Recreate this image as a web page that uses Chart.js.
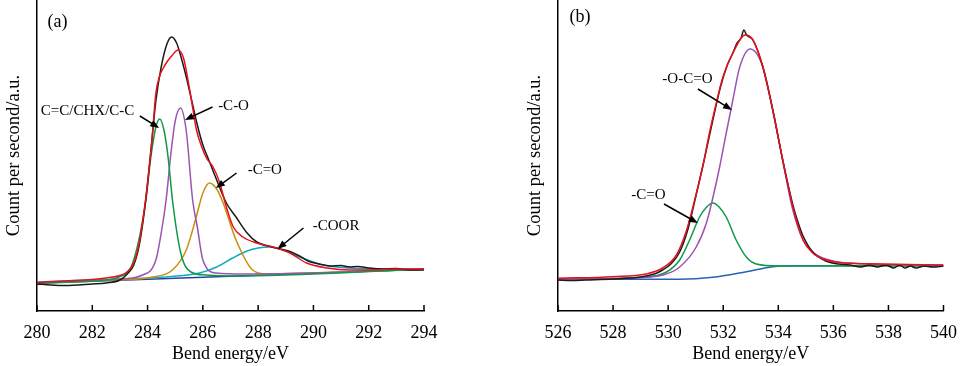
<!DOCTYPE html>
<html>
<head>
<meta charset="utf-8">
<script src="https://cdn.jsdelivr.net/npm/chart.js@4.4.1/dist/chart.umd.min.js"></script>
<style>
  body { margin: 0; background: #fff; }
  .row { display: flex; width: 960px; height: 366px; }
  canvas { display: block; }
</style>
</head>
<body>
<div class="row">
  <canvas id="c1s" width="480" height="366"></canvas>
  <canvas id="o1s" width="480" height="366"></canvas>
</div>
<script>
// ---- panel (a): C1s ----
const aRawE = [280, 280.5, 281, 282, 282.5, 283, 283.3, 283.5, 283.7, 283.9, 284.1, 284.3, 284.5, 284.7, 284.87, 285.05, 285.2, 285.4, 285.6, 285.8, 286.0, 286.2, 286.5, 286.85, 287.2, 287.6, 287.95, 288.5, 289.1, 289.5, 289.8, 290.2, 290.6, 291.0, 291.3, 291.6, 292.0, 292.5, 293.0, 293.5, 294];
const aRaw  = [27, 26, 25.5, 27, 28, 31, 38, 46, 66, 103, 155, 210, 245, 267, 274, 268, 255, 234, 210, 186, 166, 152, 131, 108, 94, 78, 69, 64, 60, 55, 50, 47, 45, 45.5, 44, 44.5, 43, 42, 42.5, 41, 41];

const aFitE = [280, 281, 282, 282.5, 283, 283.25, 283.5, 283.7, 283.85, 284.0, 284.15, 284.3, 284.45, 284.55, 284.7, 284.9, 285.1, 285.3, 285.55, 285.77, 285.96, 286.15, 286.35, 286.6, 286.85, 287.1, 287.45, 287.95, 288.55, 289.15, 289.75, 290.5, 291.3, 292, 293, 294];
const aFit  = [28.5, 30, 31.5, 33, 35.5, 39, 48, 68, 95, 128, 168, 218, 236, 242, 249, 256, 261, 253, 217, 181, 164, 152, 145, 129, 104, 84, 74, 68, 64, 58, 48, 43, 41, 41, 42, 42];

const aCCE = [280, 282, 282.97, 283.46, 283.94, 284.1, 284.3, 284.44, 284.6, 284.75, 284.9, 285.2, 285.57, 286.1, 287, 294];
const aCC  = [28, 30, 34, 48, 111, 150, 184, 192, 180, 152, 111, 58, 39, 36, 35, 41.7];

const aCOE = [280, 283, 283.82, 284.3, 284.5, 284.67, 284.85, 285.0, 285.19, 285.4, 285.63, 285.8, 286.0, 286.48, 287.5, 294];
const aCO  = [28, 32, 36, 51, 79, 111, 159, 190, 203, 180, 111, 84, 51, 38, 37, 41.7];

const aCdOE = [282, 284.2, 284.9, 285.4, 285.76, 286.0, 286.24, 286.5, 286.72, 287.2, 287.8, 288.3, 290, 294];
const aCdO  = [30, 34, 41, 61, 94, 118, 128, 122, 109, 71, 41, 37, 38, 41.7];

const aCOORE = [280, 282, 284.67, 285.88, 286.5, 287.08, 287.6, 288.0, 288.42, 288.9, 289.5, 290.35, 291.3, 292.5, 294];
const aCOOR  = [29, 31, 34, 38, 44, 53, 60, 63, 64, 61, 54, 46, 43, 42, 42];

const aBgE = [280, 294];
const aBg  = [27.7, 41.7];

// ---- panel (b): O1s ----
const bRawE = [526, 526.5, 527, 528, 529, 529.5, 529.8, 530.1, 530.4, 530.7, 531.0, 531.3, 531.6, 531.9, 532.15, 532.35, 532.5, 532.65, 532.75, 532.85, 533.08, 533.44, 533.8, 534.16, 534.53, 534.75, 534.9, 535.25, 535.73, 536.2, 536.6, 537.0, 537.3, 537.6, 537.9, 538.2, 538.4, 538.6, 538.8, 539.0, 539.3, 539.6, 540];
const bRaw  = [31, 30.5, 31, 32, 34, 37, 41, 47, 58, 80, 114, 150, 188, 224, 246, 258, 268, 273, 281, 276, 271, 244, 201, 151, 106, 86, 75, 59, 50, 47, 46, 44, 46, 44, 46, 43, 46, 43, 45, 43, 45, 44, 45];

const bFitE = [526, 528, 529.2, 529.8, 530.3, 530.66, 531.0, 531.27, 531.5, 531.75, 531.99, 532.35, 532.8, 533.08, 533.44, 533.8, 534.16, 534.53, 534.9, 535.25, 535.73, 536.46, 537.67, 540];
const bFit  = [32.7, 34.3, 37, 43, 56, 80, 115, 146, 178, 208, 234, 258, 276, 271, 244, 201, 151, 104, 71, 58, 51, 48, 47, 46];

const bOCOE = [526, 528.6, 529.82, 530.42, 531.02, 531.39, 531.63, 531.87, 532.11, 532.35, 532.6, 532.98, 533.44, 533.8, 534.16, 534.5, 534.9, 535.25, 535.85, 536.46, 540];
const bOCO  = [31.7, 33, 36, 44, 64, 88, 114, 144, 178, 211, 244, 262, 244, 201, 151, 104, 71, 59, 51, 48, 46];

const bCdOE = [526, 529.2, 529.94, 530.42, 530.78, 531.14, 531.4, 531.63, 531.85, 532.11, 532.47, 532.84, 533.2, 534.04, 540];
const bCdO  = [31.7, 34, 39, 51, 71, 94, 104, 108, 104, 94, 71, 54, 47, 45, 45.3];

const bBgE = [526, 530.4, 531.63, 532.84, 533.8, 534.65, 540];
const bBg  = [31.7, 31.7, 33.7, 39.3, 44.3, 45.3, 45.3];

// ---- labels and arrows (data coordinates) ----
const aLabels = [
  { text: 'C=C/CHX/C-C', x: 281.83, y: 200 },
  { text: '-C-O', x: 287.11, y: 205 },
  { text: '-C=O', x: 288.24, y: 141 },
  { text: '-COOR', x: 290.82, y: 85 }
];
const aArrows = [
  { x0: 283.72, y0: 195, x1: 284.42, y1: 183 },
  { x0: 286.35, y0: 204, x1: 285.35, y1: 191 },
  { x0: 287.22, y0: 138, x1: 286.47, y1: 123 },
  { x0: 289.64, y0: 83, x1: 288.7, y1: 62 }
];
const bLabels = [
  { text: '-O-C=O', x: 530.7, y: 232 },
  { text: '-C=O', x: 529.28, y: 116 }
];
const bArrows = [
  { x0: 531.08, y0: 222, x1: 532.32, y1: 201 },
  { x0: 529.85, y0: 107, x1: 531.08, y1: 88 }
];

const SERIF = '"Liberation Serif", "Times New Roman", serif';

function pts(xs, ys) {
  return xs.map((x, i) => ({ x: x, y: ys[i] }));
}

function line(label, xs, ys, color) {
  return {
    label: label,
    data: pts(xs, ys),
    borderColor: color,
    borderWidth: 1.5,
    pointRadius: 0,
    fill: false,
    cubicInterpolationMode: 'monotone'
  };
}

const marks = {
  id: 'marks',
  afterDraw(chart, args, opts) {
    const ctx = chart.ctx;
    const x = chart.scales.x, y = chart.scales.y;
    ctx.save();
    // inward ticks on the energy axis
    ctx.strokeStyle = '#000';
    ctx.lineWidth = 1.5;
    x.ticks.forEach(t => {
      const px = x.getPixelForValue(t.value);
      ctx.beginPath();
      ctx.moveTo(px, x.top);
      ctx.lineTo(px, x.top - 6);
      ctx.stroke();
    });
    ctx.fillStyle = '#000';
    ctx.textAlign = 'center';
    ctx.textBaseline = 'middle';
    ctx.font = '15px ' + SERIF;
    opts.labels.forEach(l => {
      ctx.fillText(l.text, x.getPixelForValue(l.x), y.getPixelForValue(l.y));
    });
    ctx.lineWidth = 1.5;
    opts.arrows.forEach(a => {
      const x0 = x.getPixelForValue(a.x0), y0 = y.getPixelForValue(a.y0);
      const x1 = x.getPixelForValue(a.x1), y1 = y.getPixelForValue(a.y1);
      const ang = Math.atan2(y1 - y0, x1 - x0);
      const len = 9, hw = 3.5;
      ctx.beginPath();
      ctx.moveTo(x0, y0);
      ctx.lineTo(x1 - Math.cos(ang) * len * 0.8, y1 - Math.sin(ang) * len * 0.8);
      ctx.stroke();
      ctx.beginPath();
      ctx.moveTo(x1, y1);
      ctx.lineTo(x1 - Math.cos(ang) * len - Math.sin(ang) * hw, y1 - Math.sin(ang) * len + Math.cos(ang) * hw);
      ctx.lineTo(x1 - Math.cos(ang) * len + Math.sin(ang) * hw, y1 - Math.sin(ang) * len - Math.cos(ang) * hw);
      ctx.closePath();
      ctx.fill();
    });
    ctx.font = '18px ' + SERIF;
    ctx.fillText(opts.tag.text, x.getPixelForValue(opts.tag.x), y.getPixelForValue(opts.tag.y));
    ctx.restore();
  }
};

function makeChart(id, datasets, xmin, xmax, pad, plugOpts) {
  return new Chart(document.getElementById(id), {
    type: 'line',
    data: { datasets: datasets },
    plugins: [marks],
    options: {
      responsive: false,
      animation: false,
      layout: { padding: pad },
      plugins: {
        legend: { display: false },
        tooltip: { enabled: false },
        marks: plugOpts
      },
      scales: {
        x: {
          type: 'linear',
          min: xmin,
          max: xmax,
          grid: { display: false },
          border: { display: true, color: '#000', width: 1.5 },
          ticks: { stepSize: 2, color: '#000', padding: 3, maxRotation: 0, font: { family: SERIF, size: 18 } },
          title: { display: true, text: 'Bend energy/eV', color: '#000', padding: { top: 0, bottom: 1 }, font: { family: SERIF, size: 18 } },
          afterFit: s => { s.height = 55; }
        },
        y: {
          min: 0,
          max: 311,
          grid: { display: false },
          border: { display: true, color: '#000', width: 1.5 },
          ticks: { display: false },
          title: { display: true, text: 'Count per second/a.u.', color: '#000', padding: { top: 3, bottom: 0 }, font: { family: SERIF, size: 18.5 } },
          afterFit: s => { s.width = 37; }
        }
      }
    }
  });
}

makeChart('c1s', [
  line('Fit', aFitE, aFit, '#e8101a'),
  line('Raw', aRawE, aRaw, '#1a1a1a'),
  line('C=C/CHX/C-C', aCCE, aCC, '#0c9a48'),
  line('-C-O', aCOE, aCO, '#9a55b4'),
  line('-C=O', aCdOE, aCdO, '#c98e0c'),
  line('-COOR', aCOORE, aCOOR, '#12a8c4'),
  line('Background', aBgE, aBg, '#24449c')
], 280, 294, { left: 0, right: 56, top: 0, bottom: 0 },
  { labels: aLabels, arrows: aArrows, tag: { text: '(a)', x: 280.74, y: 289 } });

makeChart('o1s', [
  line('Fit', bFitE, bFit, '#e8101a'),
  line('Raw', bRawE, bRaw, '#1a1a1a'),
  line('-O-C=O', bOCOE, bOCO, '#9a55b4'),
  line('-C=O', bCdOE, bCdO, '#0c9a48'),
  line('Background', bBgE, bBg, '#2862b4')
], 526, 540, { left: 41, right: 16, top: 0, bottom: 0 },
  { labels: bLabels, arrows: bArrows, tag: { text: '(b)', x: 526.8, y: 294 } });
</script>
</body>
</html>
